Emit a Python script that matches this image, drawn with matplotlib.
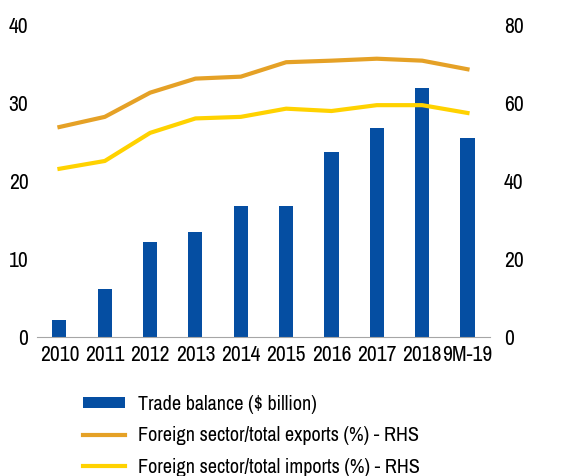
import matplotlib
matplotlib.use("Agg")
import matplotlib.pyplot as plt
import numpy as np

plt.rcParams["font.family"] = ["Archivo Narrow", "DejaVu Sans"]

years = ["2010", "2011", "2012", "2013", "2014", "2015", "2016", "2017", "2018", "9M-19"]
trade_balance = [2.2, 6.2, 12.2, 13.5, 16.8, 16.8, 23.7, 26.8, 31.9, 25.5]
exports_share = [53.8, 56.4, 62.6, 66.2, 66.7, 70.4, 70.8, 71.3, 70.8, 68.6]
imports_share = [43.1, 45.1, 52.3, 56.0, 56.4, 58.5, 57.9, 59.4, 59.4, 57.4]

blue = "#054ea2"
orange = "#e5a126"
yellow = "#ffd200"

fig = plt.figure(figsize=(5.66, 4.76), dpi=100)
ax = fig.add_axes([0.065, 0.292, 0.801, 0.656])
ax2 = ax.twinx()

x = np.arange(len(years))
bars = ax.bar(x, trade_balance, width=0.31, color=blue, label="Trade balance ($ billion)")
l1, = ax2.plot(x, exports_share, color=orange, lw=3, label="Foreign sector/total exports (%) - RHS")
l2, = ax2.plot(x, imports_share, color=yellow, lw=3, label="Foreign sector/total imports (%) - RHS")

ax.set_ylim(0, 40)
ax2.set_ylim(0, 80)
ax.set_xlim(-0.5, 9.5)
ax.set_yticks([0, 10, 20, 30, 40])
ax2.set_yticks([0, 20, 40, 60, 80])
ax.set_xticks(x)
ax.set_xticklabels(years)

for a in (ax, ax2):
    for s in a.spines.values():
        s.set_visible(False)
    a.tick_params(length=0, labelsize=15.5)
ax.spines["bottom"].set_visible(True)
ax.spines["bottom"].set_color("#a6a6a6")
ax.tick_params(axis="y", pad=6)
ax2.tick_params(axis="y", pad=10)
ax.tick_params(axis="x", pad=6)

fig.legend(handles=[bars, l1, l2], loc="upper left", bbox_to_anchor=(0.147, 0.171),
           frameon=False, fontsize=14.5, handlelength=2.1, handleheight=0.45,
           handletextpad=0.6, labelspacing=0.62, borderpad=0, borderaxespad=0)

fig.savefig("out.png", dpi=100)
